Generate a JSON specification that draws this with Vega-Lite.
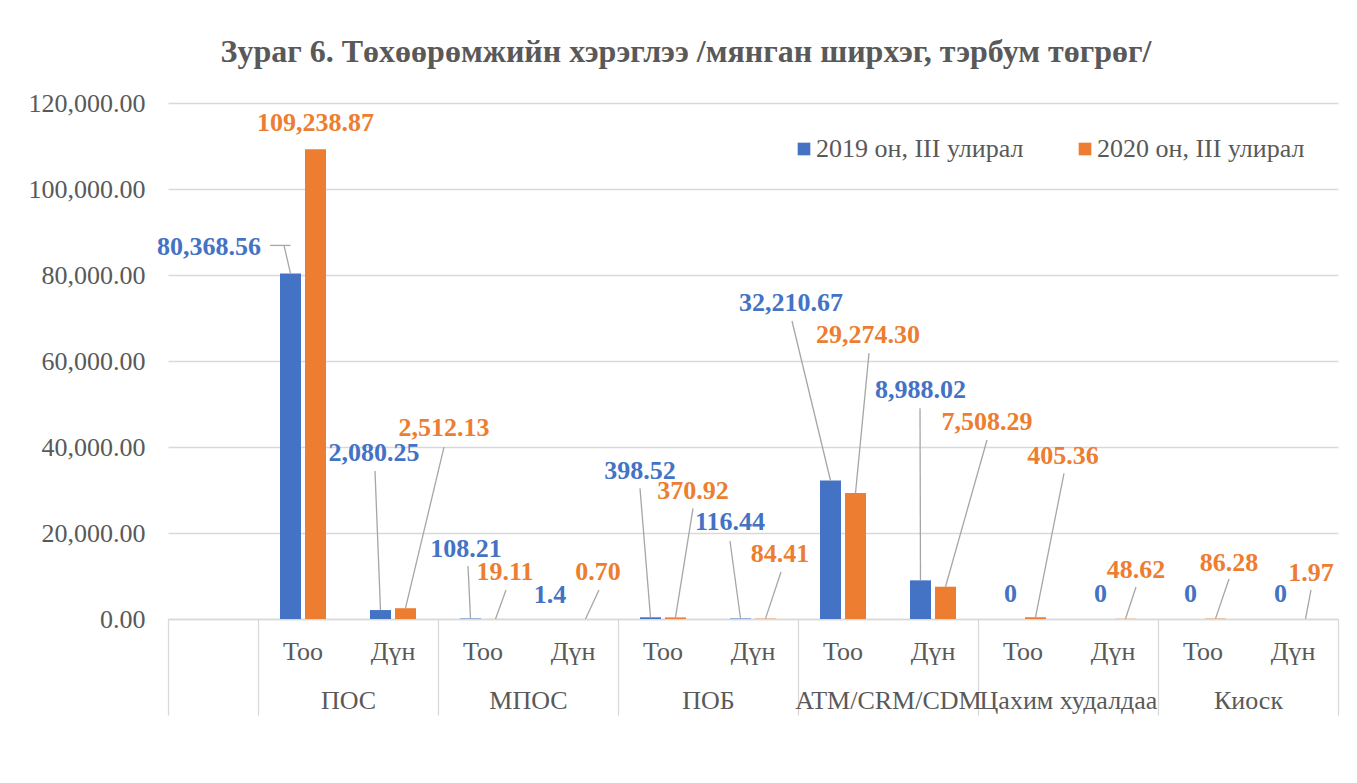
{
  "$schema": "https://vega.github.io/schema/vega-lite/v6.json",
  "width": 1170,
  "height": 516,
  "autosize": "none",
  "padding": {"left": 168, "top": 103, "right": 19, "bottom": 164},
  "background": "white",
  "title": {
    "text": "Зураг 6. Төхөөрөмжийн хэрэглээ /мянган ширхэг, тэрбум төгрөг/",
    "font": "Liberation Serif",
    "fontSize": 32,
    "fontWeight": "bold",
    "color": "#595959",
    "anchor": "middle",
    "frame": "group",
    "dx": -67,
    "offset": 21
  },
  "data": {
    "values": [
      {"slot": "ПОС|Тоо", "series": "2019 он, III улирал", "value": 80368.56, "label": "80,368.56"},
      {"slot": "ПОС|Тоо", "series": "2020 он, III улирал", "value": 109238.87, "label": "109,238.87"},
      {"slot": "ПОС|Дүн", "series": "2019 он, III улирал", "value": 2080.25, "label": "2,080.25"},
      {"slot": "ПОС|Дүн", "series": "2020 он, III улирал", "value": 2512.13, "label": "2,512.13"},
      {"slot": "МПОС|Тоо", "series": "2019 он, III улирал", "value": 108.21, "label": "108.21"},
      {"slot": "МПОС|Тоо", "series": "2020 он, III улирал", "value": 19.11, "label": "19.11"},
      {"slot": "МПОС|Дүн", "series": "2019 он, III улирал", "value": 1.4, "label": "1.4"},
      {"slot": "МПОС|Дүн", "series": "2020 он, III улирал", "value": 0.70, "label": "0.70"},
      {"slot": "ПОБ|Тоо", "series": "2019 он, III улирал", "value": 398.52, "label": "398.52"},
      {"slot": "ПОБ|Тоо", "series": "2020 он, III улирал", "value": 370.92, "label": "370.92"},
      {"slot": "ПОБ|Дүн", "series": "2019 он, III улирал", "value": 116.44, "label": "116.44"},
      {"slot": "ПОБ|Дүн", "series": "2020 он, III улирал", "value": 84.41, "label": "84.41"},
      {"slot": "ATM/CRM/CDM|Тоо", "series": "2019 он, III улирал", "value": 32210.67, "label": "32,210.67"},
      {"slot": "ATM/CRM/CDM|Тоо", "series": "2020 он, III улирал", "value": 29274.30, "label": "29,274.30"},
      {"slot": "ATM/CRM/CDM|Дүн", "series": "2019 он, III улирал", "value": 8988.02, "label": "8,988.02"},
      {"slot": "ATM/CRM/CDM|Дүн", "series": "2020 он, III улирал", "value": 7508.29, "label": "7,508.29"},
      {"slot": "Цахим худалдаа|Тоо", "series": "2019 он, III улирал", "value": 0, "label": "0"},
      {"slot": "Цахим худалдаа|Тоо", "series": "2020 он, III улирал", "value": 405.36, "label": "405.36"},
      {"slot": "Цахим худалдаа|Дүн", "series": "2019 он, III улирал", "value": 0, "label": "0"},
      {"slot": "Цахим худалдаа|Дүн", "series": "2020 он, III улирал", "value": 48.62, "label": "48.62"},
      {"slot": "Киоск|Тоо", "series": "2019 он, III улирал", "value": 0, "label": "0"},
      {"slot": "Киоск|Тоо", "series": "2020 он, III улирал", "value": 86.28, "label": "86.28"},
      {"slot": "Киоск|Дүн", "series": "2019 он, III улирал", "value": 0, "label": "0"},
      {"slot": "Киоск|Дүн", "series": "2020 он, III улирал", "value": 1.97, "label": "1.97"}
    ]
  },
  "layer": [
    {
      "encoding": {
        "x": {
          "field": "slot", "type": "nominal",
          "scale": {"domain": [" ", "ПОС|Тоо", "ПОС|Дүн", "МПОС|Тоо", "МПОС|Дүн", "ПОБ|Тоо", "ПОБ|Дүн", "ATM/CRM/CDM|Тоо", "ATM/CRM/CDM|Дүн", "Цахим худалдаа|Тоо", "Цахим худалдаа|Дүн", "Киоск|Тоо", "Киоск|Дүн"], "paddingInner": 0, "paddingOuter": 0},
          "axis": {
            "title": null, "orient": "bottom", "ticks": false, "labelAngle": 0,
            "labelExpr": "datum.value && indexof(datum.value, '|') > 0 ? split(datum.value, '|')[1] : ''",
            "labelFont": "Liberation Serif", "labelFontSize": 26, "labelColor": "#595959",
            "labelBaseline": "middle", "labelPadding": 32, "labelOverlap": false,
            "domainColor": "#d9d9d9", "domainWidth": 1.3, "grid": false
          }
        },
        "xOffset": {"field": "series", "type": "nominal", "scale": {"domain": ["2019 он, III улирал", "2020 он, III улирал"], "paddingInner": 0.16, "paddingOuter": 0.88}},
        "y": {
          "field": "value", "type": "quantitative",
          "scale": {"domain": [0, 120000], "nice": false, "zero": true},
          "axis": {
            "title": null, "values": [0, 20000, 40000, 60000, 80000, 100000, 120000], "format": ",.2f",
            "ticks": false, "domain": false, "grid": true, "gridColor": "#d9d9d9", "gridWidth": 1.3,
            "labelFont": "Liberation Serif", "labelFontSize": 26, "labelColor": "#595959", "labelPadding": 23
          }
        },
        "color": {
          "field": "series", "type": "nominal",
          "scale": {"domain": ["2019 он, III улирал", "2020 он, III улирал"], "range": ["#4472C4", "#ED7D31"]},
          "legend": {"orient": "none", "legendX": 623, "legendY": 33, "direction": "horizontal", "title": null, "symbolType": "square", "symbolSize": 160, "symbolStrokeWidth": 0, "labelFont": "Liberation Serif", "labelFontSize": 26, "labelColor": "#595959", "labelOffset": -1, "labelLimit": 400, "columnPadding": 48}
        }
      },
      "layer": [
        {"mark": {"type": "bar"}},
        {"transform": [{"filter": "datum.label === '80,368.56'"}], "mark": {"type": "text", "dx": -81.5, "dy": -18.4}, "encoding": {"text": {"field": "label"}}},
        {"transform": [{"filter": "datum.label === '109,238.87'"}], "mark": {"type": "text", "dx": 0, "dy": -18.3}, "encoding": {"text": {"field": "label"}}},
        {"transform": [{"filter": "datum.label === '2,080.25'"}], "mark": {"type": "text", "dx": -6.5, "dy": -149}, "encoding": {"text": {"field": "label"}}},
        {"transform": [{"filter": "datum.label === '2,512.13'"}], "mark": {"type": "text", "dx": 38.5, "dy": -172}, "encoding": {"text": {"field": "label"}}},
        {"transform": [{"filter": "datum.label === '108.21'"}], "mark": {"type": "text", "dx": -4.5, "dy": -61.5}, "encoding": {"text": {"field": "label"}}},
        {"transform": [{"filter": "datum.label === '19.11'"}], "mark": {"type": "text", "dx": 9.5, "dy": -39}, "encoding": {"text": {"field": "label"}}},
        {"transform": [{"filter": "datum.label === '1.4'"}], "mark": {"type": "text", "dx": -10.5, "dy": -16}, "encoding": {"text": {"field": "label"}}},
        {"transform": [{"filter": "datum.label === '0.70'"}], "mark": {"type": "text", "dx": 12.5, "dy": -39}, "encoding": {"text": {"field": "label"}}},
        {"transform": [{"filter": "datum.label === '398.52'"}], "mark": {"type": "text", "dx": -10.5, "dy": -138}, "encoding": {"text": {"field": "label"}}},
        {"transform": [{"filter": "datum.label === '370.92'"}], "mark": {"type": "text", "dx": 17.5, "dy": -118}, "encoding": {"text": {"field": "label"}}},
        {"transform": [{"filter": "datum.label === '116.44'"}], "mark": {"type": "text", "dx": -10.5, "dy": -88.5}, "encoding": {"text": {"field": "label"}}},
        {"transform": [{"filter": "datum.label === '84.41'"}], "mark": {"type": "text", "dx": 14.5, "dy": -56.6}, "encoding": {"text": {"field": "label"}}},
        {"transform": [{"filter": "datum.label === '32,210.67'"}], "mark": {"type": "text", "dx": -39.5, "dy": -169.5}, "encoding": {"text": {"field": "label"}}},
        {"transform": [{"filter": "datum.label === '29,274.30'"}], "mark": {"type": "text", "dx": 12.5, "dy": -150}, "encoding": {"text": {"field": "label"}}},
        {"transform": [{"filter": "datum.label === '8,988.02'"}], "mark": {"type": "text", "dx": 0, "dy": -182.4}, "encoding": {"text": {"field": "label"}}},
        {"transform": [{"filter": "datum.label === '7,508.29'"}], "mark": {"type": "text", "dx": 41.5, "dy": -156.7}, "encoding": {"text": {"field": "label"}}},
        {"transform": [{"filter": "datum.label === '0'"}], "mark": {"type": "text", "dx": 0, "dy": -17}, "encoding": {"text": {"field": "label"}}},
        {"transform": [{"filter": "datum.label === '405.36'"}], "mark": {"type": "text", "dx": 27.5, "dy": -153.3}, "encoding": {"text": {"field": "label"}}},
        {"transform": [{"filter": "datum.label === '48.62'"}], "mark": {"type": "text", "dx": 10.5, "dy": -40.8}, "encoding": {"text": {"field": "label"}}},
        {"transform": [{"filter": "datum.label === '86.28'"}], "mark": {"type": "text", "dx": 13.5, "dy": -47.6}, "encoding": {"text": {"field": "label"}}},
        {"transform": [{"filter": "datum.label === '1.97'"}], "mark": {"type": "text", "dx": 5.5, "dy": -38}, "encoding": {"text": {"field": "label"}}},
        {"transform": [{"filter": "datum.label === '80,368.56'"}], "mark": {"type": "rule", "x2Offset": -19, "y2Offset": -28}, "encoding": {"x2": {"field": "slot"}, "y2": {"field": "value"}, "color": {"value": "#a6a6a6"}}},
        {"transform": [{"filter": "datum.label === '80,368.56'"}], "mark": {"type": "rule", "xOffset": -6.5, "yOffset": -28, "x2Offset": -33, "y2Offset": -28}, "encoding": {"x2": {"field": "slot"}, "y2": {"field": "value"}, "color": {"value": "#a6a6a6"}}},
        {"transform": [{"filter": "datum.label === '2,080.25'"}], "mark": {"type": "rule", "x2Offset": -18, "y2Offset": -139}, "encoding": {"x2": {"field": "slot"}, "y2": {"field": "value"}, "color": {"value": "#a6a6a6"}}},
        {"transform": [{"filter": "datum.label === '2,512.13'"}], "mark": {"type": "rule", "x2Offset": 51, "y2Offset": -161}, "encoding": {"x2": {"field": "slot"}, "y2": {"field": "value"}, "color": {"value": "#a6a6a6"}}},
        {"transform": [{"filter": "datum.label === '108.21'"}], "mark": {"type": "rule", "x2Offset": -15, "y2Offset": -52.5}, "encoding": {"x2": {"field": "slot"}, "y2": {"field": "value"}, "color": {"value": "#a6a6a6"}}},
        {"transform": [{"filter": "datum.label === '19.11'"}], "mark": {"type": "rule", "x2Offset": 23, "y2Offset": -29}, "encoding": {"x2": {"field": "slot"}, "y2": {"field": "value"}, "color": {"value": "#a6a6a6"}}},
        {"transform": [{"filter": "datum.label === '0.70'"}], "mark": {"type": "rule", "x2Offset": 26, "y2Offset": -29}, "encoding": {"x2": {"field": "slot"}, "y2": {"field": "value"}, "color": {"value": "#a6a6a6"}}},
        {"transform": [{"filter": "datum.label === '398.52'"}], "mark": {"type": "rule", "x2Offset": -23, "y2Offset": -129}, "encoding": {"x2": {"field": "slot"}, "y2": {"field": "value"}, "color": {"value": "#a6a6a6"}}},
        {"transform": [{"filter": "datum.label === '370.92'"}], "mark": {"type": "rule", "x2Offset": 30, "y2Offset": -109}, "encoding": {"x2": {"field": "slot"}, "y2": {"field": "value"}, "color": {"value": "#a6a6a6"}}},
        {"transform": [{"filter": "datum.label === '116.44'"}], "mark": {"type": "rule", "x2Offset": -23, "y2Offset": -77.5}, "encoding": {"x2": {"field": "slot"}, "y2": {"field": "value"}, "color": {"value": "#a6a6a6"}}},
        {"transform": [{"filter": "datum.label === '84.41'"}], "mark": {"type": "rule", "x2Offset": 28, "y2Offset": -46.6}, "encoding": {"x2": {"field": "slot"}, "y2": {"field": "value"}, "color": {"value": "#a6a6a6"}}},
        {"transform": [{"filter": "datum.label === '32,210.67'"}], "mark": {"type": "rule", "x2Offset": -51, "y2Offset": -159.5}, "encoding": {"x2": {"field": "slot"}, "y2": {"field": "value"}, "color": {"value": "#a6a6a6"}}},
        {"transform": [{"filter": "datum.label === '29,274.30'"}], "mark": {"type": "rule", "x2Offset": 26, "y2Offset": -140}, "encoding": {"x2": {"field": "slot"}, "y2": {"field": "value"}, "color": {"value": "#a6a6a6"}}},
        {"transform": [{"filter": "datum.label === '8,988.02'"}], "mark": {"type": "rule", "x2Offset": -13, "y2Offset": -172}, "encoding": {"x2": {"field": "slot"}, "y2": {"field": "value"}, "color": {"value": "#a6a6a6"}}},
        {"transform": [{"filter": "datum.label === '7,508.29'"}], "mark": {"type": "rule", "x2Offset": 54, "y2Offset": -146.7}, "encoding": {"x2": {"field": "slot"}, "y2": {"field": "value"}, "color": {"value": "#a6a6a6"}}},
        {"transform": [{"filter": "datum.label === '405.36'"}], "mark": {"type": "rule", "x2Offset": 41, "y2Offset": -144}, "encoding": {"x2": {"field": "slot"}, "y2": {"field": "value"}, "color": {"value": "#a6a6a6"}}},
        {"transform": [{"filter": "datum.label === '48.62'"}], "mark": {"type": "rule", "x2Offset": 23, "y2Offset": -31.8}, "encoding": {"x2": {"field": "slot"}, "y2": {"field": "value"}, "color": {"value": "#a6a6a6"}}},
        {"transform": [{"filter": "datum.label === '86.28'"}], "mark": {"type": "rule", "x2Offset": 26, "y2Offset": -39.6}, "encoding": {"x2": {"field": "slot"}, "y2": {"field": "value"}, "color": {"value": "#a6a6a6"}}},
        {"transform": [{"filter": "datum.label === '1.97'"}], "mark": {"type": "rule", "x2Offset": 18, "y2Offset": -29}, "encoding": {"x2": {"field": "slot"}, "y2": {"field": "value"}, "color": {"value": "#a6a6a6"}}}
      ]
    },
    {
      "mark": {"type": "point", "opacity": 0},
      "encoding": {
        "x": {
          "field": "slot", "type": "nominal",
          "axis": {
            "title": null, "orient": "bottom", "domain": false, "grid": false, "labelAngle": 0,
            "tickBand": "extent", "tickSize": 96, "tickColor": "#d9d9d9", "tickWidth": 1.3,
            "tickOpacity": {"condition": {"test": "datum.value && indexof(datum.value, 'Тоо') > 0", "value": 0}, "value": 1},
            "labelExpr": "datum.value && indexof(datum.value, 'Дүн') > 0 ? split(datum.value, '|')[0] : ''",
            "labelOffset": -45, "labelFont": "Liberation Serif", "labelFontSize": 26, "labelColor": "#595959",
            "labelBaseline": "middle", "labelPadding": -15, "labelOverlap": false, "labelBound": false, "labelLimit": 400
          }
        }
      }
    }
  ],
  "resolve": {"axis": {"x": "independent"}},
  "config": {
    "font": "Liberation Serif",
    "view": {"stroke": null},
    "text": {"font": "Liberation Serif", "fontSize": 26, "fontWeight": "bold", "baseline": "alphabetic", "align": "center"},
    "rule": {"strokeWidth": 1.3}
  }
}
